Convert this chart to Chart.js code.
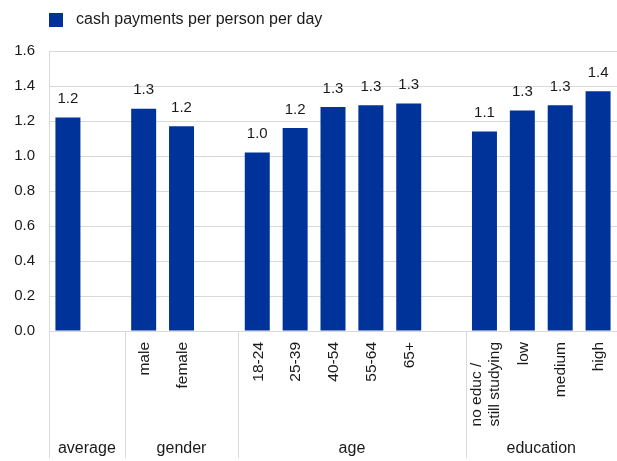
<!DOCTYPE html>
<html>
<head>
<meta charset="utf-8">
<script src="https://cdn.jsdelivr.net/npm/chart.js@4/dist/chart.umd.min.js"></script>
<style>
  html, body { margin: 0; padding: 0; background: #fff; }
  #wrap { width: 617px; height: 461px; position: relative; }
</style>
</head>
<body>
<div id="wrap"><canvas id="chart"></canvas></div>
<script>
// categories, empty strings are the gaps between the groups
const categories = [
  "average", "",
  "male", "female", "",
  "18-24", "25-39", "40-54", "55-64", "65+", "",
  ["no educ /", "still studying"], "low", "medium", "high"
];
const values = [
  1.22, null,
  1.27, 1.17, null,
  1.02, 1.16, 1.28, 1.29, 1.30, null,
  1.14, 1.26, 1.29, 1.37
];
const seriesName = "cash payments per person per day";
const groupLabels = ["average", "gender", "age", "education"];
const groupStarts = [0, 2, 5, 11]; // index of first category in each group
const yTicks = [0, 0.2, 0.4, 0.6, 0.8, 1.0, 1.2, 1.4, 1.6];

const FONT = '"Liberation Sans", Arial, sans-serif';
const BLUE = "#003399";
const GRID = "#d9d9d9";
const TEXT = "#1a1a1a";

// value labels, category labels, group separators, group names and legend
const decor = {
  id: "decor",
  afterDatasetsDraw(chart) {
    const { ctx, chartArea, scales: { x } } = chart;
    const meta = chart.getDatasetMeta(0);
    ctx.save();
    ctx.fillStyle = TEXT;

    // values above the bars
    ctx.font = "15px " + FONT;
    ctx.textAlign = "center";
    ctx.textBaseline = "bottom";
    meta.data.forEach((bar, i) => {
      if (values[i] == null) return;
      ctx.fillText(values[i].toFixed(1), bar.x, bar.y - 11);
    });

    // rotated category labels (block right aligned, lines left aligned)
    ctx.font = "15.5px " + FONT;
    ctx.textBaseline = "middle";
    ctx.textAlign = "left";
    categories.forEach((cat, i) => {
      if (!cat || groupLabels.includes(cat)) return;
      const lines = Array.isArray(cat) ? cat : [cat];
      const w = Math.max(...lines.map(l => ctx.measureText(l).width));
      ctx.save();
      ctx.translate(x.getPixelForValue(i), chartArea.bottom + 11);
      ctx.rotate(-Math.PI / 2);
      lines.forEach((l, j) => {
        ctx.fillText(l, -w, (j - (lines.length - 1) / 2) * 18 + 1);
      });
      ctx.restore();
    });

    // group separators and names
    const lineBottom = chart.height - 3;
    ctx.strokeStyle = GRID;
    ctx.lineWidth = 1;
    ctx.font = "16px " + FONT;
    ctx.textAlign = "center";
    groupStarts.forEach((start, g) => {
      const end = g + 1 < groupStarts.length ? groupStarts[g + 1] : categories.length;
      const left = start === 0 ? chartArea.left
        : (x.getPixelForValue(start - 1) + x.getPixelForValue(start)) / 2;
      const right = end === categories.length ? chartArea.right
        : (x.getPixelForValue(end - 1) + x.getPixelForValue(end)) / 2;
      const lx = Math.round(left) + 0.5;
      ctx.beginPath();
      ctx.moveTo(lx, chartArea.bottom);
      ctx.lineTo(lx, lineBottom);
      ctx.stroke();
      ctx.fillText(groupLabels[g], (left + right) / 2, chart.height - 12);
    });

    // legend
    ctx.fillStyle = BLUE;
    ctx.fillRect(chartArea.left, 13, 14, 14);
    ctx.fillStyle = TEXT;
    ctx.textAlign = "left";
    ctx.fillText(chart.data.datasets[0].label, chartArea.left + 27, 20);
    ctx.restore();
  }
};

new Chart(document.getElementById("chart"), {
  type: "bar",
  data: {
    labels: categories,
    datasets: [{
      label: seriesName,
      data: values,
      backgroundColor: BLUE,
      barPercentage: 0.66,
      categoryPercentage: 1.0
    }]
  },
  options: {
    responsive: true,
    maintainAspectRatio: false,
    animation: false,
    layout: { padding: { top: 51, right: 0, bottom: 0, left: 0 } },
    plugins: {
      legend: { display: false },
      tooltip: { enabled: false }
    },
    scales: {
      x: {
        grid: { display: false, drawTicks: false },
        border: { display: true, color: GRID },
        ticks: { display: false },
        afterFit(scale) { scale.height = 130; }
      },
      y: {
        min: 0,
        max: 1.6,
        afterBuildTicks(scale) { scale.ticks = yTicks.map(v => ({ value: v })); },
        grid: { color: GRID, drawTicks: false },
        border: { display: true, color: GRID },
        ticks: {
          color: TEXT,
          font: { family: FONT, size: 15 },
          padding: 14,
          callback: v => v.toFixed(1)
        },
        afterFit(scale) { scale.width = 49; }
      }
    }
  },
  plugins: [decor]
});
</script>
</body>
</html>
